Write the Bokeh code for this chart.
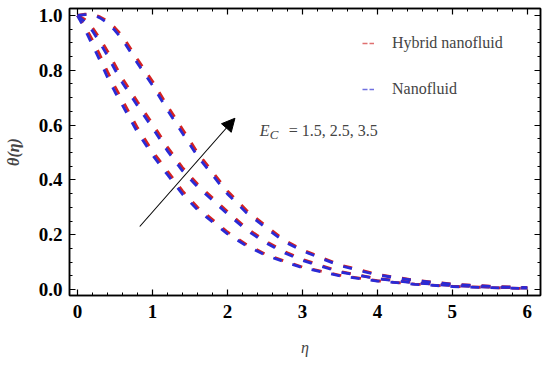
from bokeh.plotting import figure
from bokeh.models import (Range1d, LinearAxis, Legend, LegendItem, Label, Arrow,
                          NormalHead, SingleIntervalTicker, PrintfTickFormatter,
                          CustomLabelingPolicy)
from bokeh.embed import file_html
from bokeh.resources import INLINE

# ---------------- data ----------------
eta = [0, 0.1, 0.2, 0.3, 0.4, 0.5, 0.6, 0.8, 1.0, 1.2, 1.4, 1.6, 1.8, 2.0,
       2.25, 2.5, 2.75, 3.0, 3.5, 4.0, 4.5, 5.0, 5.5, 6.0]

ec_values = ["1.5", "2.5", "3.5"]

hybrid_ec15 = [1.0, 0.96, 0.91, 0.855, 0.795, 0.74, 0.69, 0.59, 0.505, 0.432, 0.36, 0.30,
               0.255, 0.21, 0.165, 0.13, 0.105, 0.082, 0.052, 0.032, 0.02, 0.012, 0.007, 0.004]
nano_ec15 = [1.0, 0.948, 0.892, 0.835, 0.774, 0.721, 0.672, 0.574, 0.491, 0.419, 0.348, 0.291,
             0.247, 0.203, 0.16, 0.126, 0.102, 0.08, 0.05, 0.031, 0.019, 0.011, 0.0067, 0.0038]

hybrid_ec25 = [1.0, 0.985, 0.955, 0.915, 0.87, 0.82, 0.77, 0.685, 0.605, 0.52, 0.445, 0.385,
               0.335, 0.285, 0.225, 0.178, 0.14, 0.11, 0.066, 0.04, 0.025, 0.015, 0.009, 0.005]
nano_ec25 = [1.0, 0.977, 0.943, 0.90, 0.853, 0.802, 0.754, 0.67, 0.59, 0.506, 0.433, 0.375,
             0.326, 0.276, 0.218, 0.172, 0.135, 0.106, 0.064, 0.039, 0.024, 0.0145, 0.0087, 0.0048]

hybrid_ec35 = [1.0, 1.005, 1.005, 0.995, 0.98, 0.955, 0.925, 0.84, 0.76, 0.67, 0.585, 0.50,
               0.43, 0.36, 0.29, 0.235, 0.182, 0.145, 0.09, 0.055, 0.034, 0.02, 0.012, 0.007]
nano_ec35 = [1.0, 1.003, 1.004, 0.991, 0.973, 0.945, 0.912, 0.826, 0.745, 0.655, 0.57, 0.487,
             0.418, 0.349, 0.281, 0.228, 0.176, 0.141, 0.087, 0.053, 0.033, 0.019, 0.0115, 0.0067]

x_ticks_step = 1
y_ticks_step = 0.2

# annotation arrow (data coordinates)
arrow_start = (0.83, 0.23)
arrow_end = (2.10, 0.625)

RED = "#d42222"
BLUE = "#2a2ad6"
SERIF = "Liberation Serif"

# ---------------- figure ----------------
p = figure(width=550, height=366, output_backend="svg", toolbar_location=None,
           x_range=Range1d(-0.107, 6.176), y_range=Range1d(-0.0218, 1.0255),
           min_border_left=69, min_border_right=10, min_border_top=8,
           min_border_bottom=71, background_fill_color="white",
           border_fill_color="white")
p.grid.visible = False
p.outline_line_color = "black"
p.outline_line_width = 1.5

dash = "9 11"
for h, n in [(hybrid_ec15, nano_ec15), (hybrid_ec25, nano_ec25), (hybrid_ec35, nano_ec35)]:
    p.line(x=eta, y=h, line_color=RED, line_width=2.8, line_dash=dash)
    p.line(x=eta, y=n, line_color=BLUE, line_width=2.8, line_dash=dash)

hide_all = CustomLabelingPolicy(code="""
    const n = indices.size
    for (let i = 0; i < n; i++) indices.unset(i)
    return indices
""")

# axes styling
def style_axis(ax, step, minor, show_labels):
    ax.ticker = SingleIntervalTicker(interval=step, num_minor_ticks=minor)
    ax.axis_line_width = 1.5
    ax.axis_line_color = "black"
    ax.major_tick_in = 6
    ax.major_tick_out = 0
    ax.minor_tick_in = 3
    ax.minor_tick_out = 0
    ax.major_tick_line_width = 1.2
    ax.minor_tick_line_width = 1.0
    ax.major_tick_line_color = "black"
    ax.minor_tick_line_color = "black"
    ax.major_label_text_font = SERIF
    ax.major_label_text_font_style = "bold"
    ax.major_label_text_color = "black"
    if show_labels:
        ax.major_label_text_font_size = "19px"
    else:
        ax.major_label_text_font_size = "0px"
        ax.major_label_policy = hide_all
        ax.major_label_standoff = 0

xa = p.xaxis[0]
style_axis(xa, x_ticks_step, 5, True)
xa.major_label_standoff = 9
xa.axis_label = "η"
xa.axis_label_text_font = SERIF
xa.axis_label_text_font_style = "italic"
xa.axis_label_text_font_size = "16px"
xa.axis_label_standoff = 18

ya = p.yaxis[0]
style_axis(ya, y_ticks_step, 4, True)
ya.formatter = PrintfTickFormatter(format="%.1f")
ya.major_label_standoff = 7
ya.axis_label = "θ(η)"
ya.axis_label_text_font = SERIF
ya.axis_label_text_font_style = "bold italic"
ya.axis_label_text_font_size = "16px"
ya.axis_label_standoff = 14

top_ax = LinearAxis()
style_axis(top_ax, x_ticks_step, 5, False)
p.add_layout(top_ax, "above")
right_ax = LinearAxis()
style_axis(right_ax, y_ticks_step, 4, False)
p.add_layout(right_ax, "right")

# legend (proxy renderers: a single point draws no line segment)
r_h = p.line(x=eta[:1], y=hybrid_ec15[:1], line_color="#e07070", line_width=1.3,
             line_dash="5 2")
r_n = p.line(x=eta[:1], y=nano_ec15[:1], line_color="#7070e0", line_width=1.3,
             line_dash="5 2")
legend = Legend(items=[LegendItem(label="Hybrid nanofluid", renderers=[r_h]),
                       LegendItem(label="Nanofluid", renderers=[r_n])],
                location=(293, 197), padding=0, margin=0, spacing=28,
                glyph_width=12, glyph_height=16, label_height=16, label_standoff=18,
                label_text_font=SERIF, label_text_font_size="16px",
                border_line_color=None, background_fill_alpha=0)
p.add_layout(legend, "center")

# annotation text E_C = 1.5, 2.5, 3.5
ann_x, ann_y = 2.43, 0.58
p.add_layout(Label(x=ann_x, y=ann_y, text="E", text_font=SERIF, text_font_style="italic",
                   text_font_size="16px", text_baseline="alphabetic"))
p.add_layout(Label(x=ann_x, y=ann_y, x_offset=10, y_offset=-4, text="C", text_font=SERIF,
                   text_font_style="italic", text_font_size="13px", text_baseline="alphabetic"))
p.add_layout(Label(x=ann_x, y=ann_y, x_offset=29,
                   text="=  " + ",  ".join(ec_values), text_font=SERIF,
                   text_font_size="16px", text_baseline="alphabetic"))

p.add_layout(Arrow(x_start=arrow_start[0], y_start=arrow_start[1],
                   x_end=arrow_end[0], y_end=arrow_end[1], line_width=1.1, line_color="black",
                   end=NormalHead(size=13, fill_color="black", line_color="black")))

open("out.html", "w").write(file_html(p, INLINE))
